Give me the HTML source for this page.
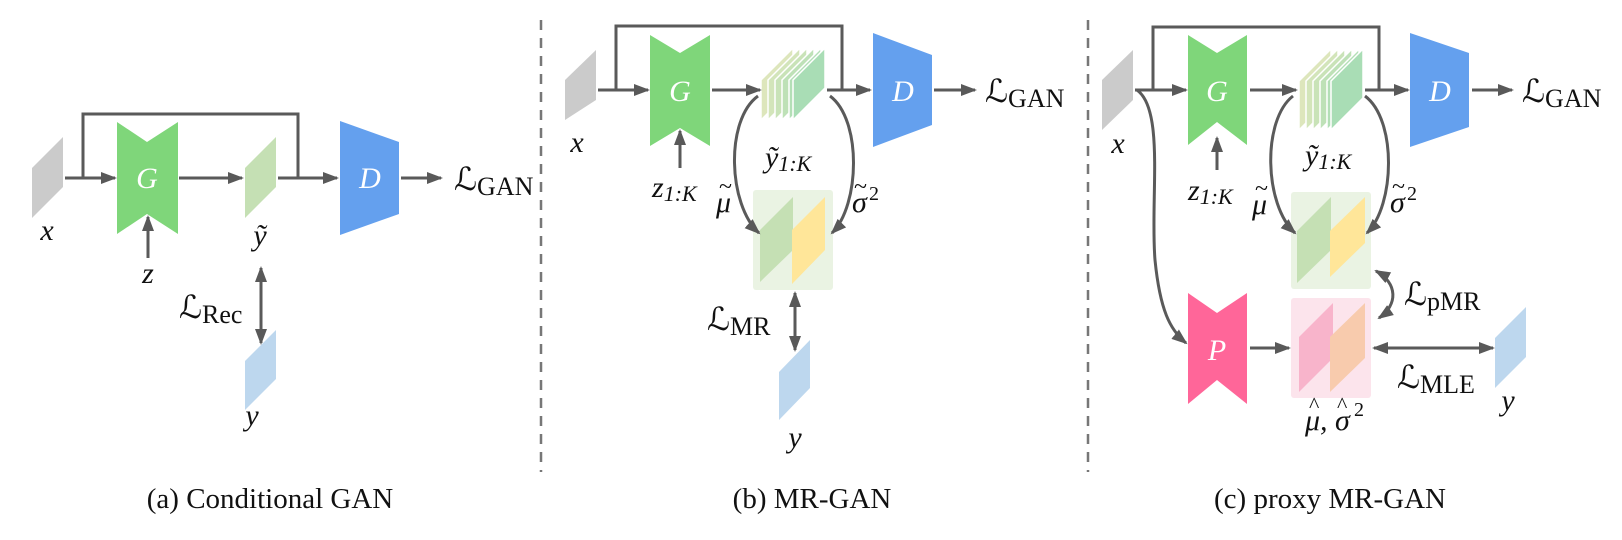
<!DOCTYPE html>
<html><head><meta charset="utf-8"><style>
html,body{margin:0;padding:0;background:#fff;}
svg{display:block;}
</style></head><body>
<svg width="1622" height="540" viewBox="0 0 1622 540" xmlns="http://www.w3.org/2000/svg">
<defs>
<marker id="ah" markerWidth="16" markerHeight="14" refX="14" refY="7" orient="auto-start-reverse" markerUnits="userSpaceOnUse">
<path d="M0,1 L16,7 L0,13 z" fill="#595959"/></marker>
</defs>
<g font-family="'Liberation Serif','Times New Roman','Noto Serif CJK SC','DejaVu Serif',serif" fill="#111">
<g stroke="#777" stroke-width="2.5" fill="none" stroke-dasharray="10,8">
<line x1="541" y1="20" x2="541" y2="472"/>
<line x1="1088" y1="20" x2="1088" y2="472"/>
</g>

<!-- ===== Panel (a) ===== -->
<polygon points="32,168 63,137 63,187 32,218" fill="#CBCBCB"/>
<polygon points="117,122 147,142 178,122 178,234 147,214 117,234" fill="#7FD67A"/>
<polygon points="245,168 276,137 276,187 245,218" fill="#C5E0B4"/>
<polygon points="340,121 399,142 399,214 340,235" fill="#64A0EE"/>
<polygon points="245,361 276,330 276,379 245,410" fill="#BDD7EE"/>
<g stroke="#5a5a5a" stroke-width="3" fill="none">
<line x1="65" y1="178" x2="115" y2="178" marker-end="url(#ah)"/>
<polyline points="83,178 83,114 298,114 298,178"/>
<line x1="179" y1="178" x2="242" y2="178" marker-end="url(#ah)"/>
<line x1="278" y1="178" x2="337" y2="178" marker-end="url(#ah)"/>
<line x1="401" y1="178" x2="441" y2="178" marker-end="url(#ah)"/>
<line x1="148" y1="258" x2="148" y2="217" marker-end="url(#ah)"/>
<line x1="261" y1="268" x2="261" y2="343" marker-start="url(#ah)" marker-end="url(#ah)"/>
</g>
<g font-style="italic" font-size="30" text-anchor="middle">
<text x="147" y="188" fill="#fff">G</text>
<text x="370" y="188" fill="#fff">D</text>
<text x="47" y="240">x</text>
<text x="260" y="245">ỹ</text>
<text x="148" y="283">z</text>
<text x="252" y="425">y</text>
</g>
<text x="454" y="190" font-size="32" font-family="'DejaVu Serif',serif">ℒ<tspan font-family="'Liberation Serif','Noto Serif CJK SC',serif" font-size="26" dy="5">GAN</tspan></text>
<text x="179" y="318" font-size="32" font-family="'DejaVu Serif',serif">ℒ<tspan font-family="'Liberation Serif','Noto Serif CJK SC',serif" font-size="26" dy="5">Rec</tspan></text>

<!-- ===== Panel (b) ===== -->
<polygon points="565,80 596,50 596,100 565,120" fill="#CBCBCB"/>
<polygon points="650,35 680,53 710,35 710,146 680,128 650,146" fill="#7FD67A"/>
<g stroke="#fff" stroke-width="1.5">
<polygon points="761,80 793,48 793,88 761,120" fill="#DDE6BC"/>
<polygon points="768,80 800,48 800,88 768,120" fill="#D3E5BA"/>
<polygon points="775,80 807,48 807,88 775,120" fill="#C9E3B8"/>
<polygon points="782,80 814,48 814,88 782,120" fill="#BEE1B7"/>
<polygon points="789,80 821,48 821,88 789,120" fill="#B3DFB6"/>
<polygon points="793,80 825,48 825,88 793,120" fill="#A9DDB5"/>
</g>
<polygon points="873,33 932,55 932,125 873,147" fill="#64A0EE"/>
<rect x="753" y="190" width="80" height="100" rx="3" fill="#EAF3E3"/>
<polygon points="760,230 793,197 793,250 760,282" fill="#C5E0B4"/>
<polygon points="792,230 825,197 825,250 792,284" fill="#FFE699"/>
<polygon points="779,372 810,340 810,388 779,420" fill="#BDD7EE"/>
<g stroke="#5a5a5a" stroke-width="3" fill="none">
<line x1="598" y1="90" x2="648" y2="90" marker-end="url(#ah)"/>
<polyline points="616,90 616,26 842,26 842,90"/>
<line x1="712" y1="90" x2="760" y2="90" marker-end="url(#ah)"/>
<line x1="827" y1="90" x2="870" y2="90" marker-end="url(#ah)"/>
<line x1="934" y1="90" x2="975" y2="90" marker-end="url(#ah)"/>
<line x1="680" y1="168" x2="680" y2="131" marker-end="url(#ah)"/>
<path d="M758,96 C725,120 728,205 759,233" marker-end="url(#ah)"/>
<path d="M830,96 C862,120 860,205 832,233" marker-end="url(#ah)"/>
<line x1="795" y1="293" x2="795" y2="350" marker-start="url(#ah)" marker-end="url(#ah)"/>
</g>
<g font-style="italic" font-size="30">
<text x="680" y="101" fill="#fff" text-anchor="middle">G</text>
<text x="903" y="101" fill="#fff" text-anchor="middle">D</text>
<text x="577" y="152" text-anchor="middle">x</text>
<text x="765" y="167">ỹ<tspan font-size="22" dy="4">1:K</tspan></text>
<text x="652" y="197">z<tspan font-size="22" dy="4">1:K</tspan></text>
<text x="716" y="212">μ</text>
<text x="719" y="194" font-style="normal" font-size="24">~</text>
<text x="852" y="212">σ</text>
<text x="854" y="194" font-style="normal" font-size="24">~</text>
<text x="869" y="200" font-style="normal" font-size="20">2</text>
<text x="795" y="447" text-anchor="middle">y</text>
</g>
<text x="985" y="102" font-size="32" font-family="'DejaVu Serif',serif">ℒ<tspan font-family="'Liberation Serif','Noto Serif CJK SC',serif" font-size="26" dy="5">GAN</tspan></text>
<text x="707" y="330" font-size="32" font-family="'DejaVu Serif',serif">ℒ<tspan font-family="'Liberation Serif','Noto Serif CJK SC',serif" font-size="26" dy="5">MR</tspan></text>

<!-- ===== Panel (c) ===== -->
<polygon points="1102,80 1133,50 1133,100 1102,130" fill="#CBCBCB"/>
<polygon points="1188,35 1217,53 1247,35 1247,145 1217,122 1188,145" fill="#7FD67A"/>
<g stroke="#fff" stroke-width="1.5">
<polygon points="1299,81 1331,49 1331,98 1299,130" fill="#DDE6BC"/>
<polygon points="1306,81 1338,49 1338,98 1306,130" fill="#D3E5BA"/>
<polygon points="1313,81 1345,49 1345,98 1313,130" fill="#C9E3B8"/>
<polygon points="1320,81 1352,49 1352,98 1320,130" fill="#BEE1B7"/>
<polygon points="1327,81 1359,49 1359,98 1327,130" fill="#B3DFB6"/>
<polygon points="1331,81 1363,49 1363,98 1331,130" fill="#A9DDB5"/>
</g>
<polygon points="1410,33 1469,53 1469,127 1410,147" fill="#64A0EE"/>
<rect x="1291" y="192" width="80" height="97" rx="3" fill="#EAF3E3"/>
<polygon points="1297,231 1331,197 1331,250 1297,283" fill="#C5E0B4"/>
<polygon points="1330,231 1365,197 1365,243 1330,277" fill="#FFE699"/>
<rect x="1291" y="298" width="80" height="100" rx="3" fill="#FCE4EC"/>
<polygon points="1299,337 1333,303 1333,358 1299,392" fill="#F8B4CB"/>
<polygon points="1330,337 1365,303 1365,358 1330,392" fill="#F8CBAD"/>
<polygon points="1188,293 1217,313 1247,293 1247,404 1217,380 1188,404" fill="#FF6699"/>
<polygon points="1495,338 1526,307 1526,357 1495,388" fill="#BDD7EE"/>
<g stroke="#5a5a5a" stroke-width="3" fill="none">
<line x1="1135" y1="90" x2="1186" y2="90" marker-end="url(#ah)"/>
<polyline points="1153,90 1153,27 1379,27 1379,90"/>
<line x1="1250" y1="90" x2="1296" y2="90" marker-end="url(#ah)"/>
<line x1="1365" y1="90" x2="1408" y2="90" marker-end="url(#ah)"/>
<line x1="1472" y1="90" x2="1512" y2="90" marker-end="url(#ah)"/>
<line x1="1217" y1="170" x2="1217" y2="138" marker-end="url(#ah)"/>
<path d="M1293,96 C1262,120 1264,205 1295,233" marker-end="url(#ah)"/>
<path d="M1365,96 C1397,120 1395,205 1367,233" marker-end="url(#ah)"/>
<path d="M1137,90 C1165,110 1150,200 1155,260 C1160,310 1170,330 1186,343" marker-end="url(#ah)"/>
<line x1="1250" y1="348" x2="1289" y2="348" marker-end="url(#ah)"/>
<path d="M1376,271 C1398,283 1398,305 1379,318" marker-start="url(#ah)" marker-end="url(#ah)"/>
<line x1="1374" y1="348" x2="1493" y2="348" marker-start="url(#ah)" marker-end="url(#ah)"/>
</g>
<g font-style="italic" font-size="30">
<text x="1217" y="101" fill="#fff" text-anchor="middle">G</text>
<text x="1217" y="360" fill="#fff" text-anchor="middle">P</text>
<text x="1440" y="101" fill="#fff" text-anchor="middle">D</text>
<text x="1118" y="153" text-anchor="middle">x</text>
<text x="1305" y="165">ỹ<tspan font-size="22" dy="4">1:K</tspan></text>
<text x="1188" y="200">z<tspan font-size="22" dy="4">1:K</tspan></text>
<text x="1252" y="214">μ</text>
<text x="1255" y="196" font-style="normal" font-size="24">~</text>
<text x="1390" y="212">σ</text>
<text x="1392" y="194" font-style="normal" font-size="24">~</text>
<text x="1407" y="200" font-style="normal" font-size="20">2</text>
<text x="1305" y="430">μ, σ</text>
<text x="1309" y="412" font-style="normal" font-size="22">^</text>
<text x="1337" y="412" font-style="normal" font-size="22">^</text>
<text x="1354" y="416" font-style="normal" font-size="20">2</text>
<text x="1508" y="410" text-anchor="middle">y</text>
</g>
<text x="1522" y="102" font-size="32" font-family="'DejaVu Serif',serif">ℒ<tspan font-family="'Liberation Serif','Noto Serif CJK SC',serif" font-size="26" dy="5">GAN</tspan></text>
<text x="1404" y="305" font-size="32" font-family="'DejaVu Serif',serif">ℒ<tspan font-family="'Liberation Serif','Noto Serif CJK SC',serif" font-size="26" dy="5">pMR</tspan></text>
<text x="1397" y="388" font-size="32" font-family="'DejaVu Serif',serif">ℒ<tspan font-family="'Liberation Serif','Noto Serif CJK SC',serif" font-size="26" dy="5">MLE</tspan></text>

<g font-size="29" text-anchor="middle">
<text x="270" y="508">(a) Conditional GAN</text>
<text x="812" y="508">(b) MR-GAN</text>
<text x="1330" y="508">(c) proxy MR-GAN</text>
</g>
</g>
</svg>
</body></html>
